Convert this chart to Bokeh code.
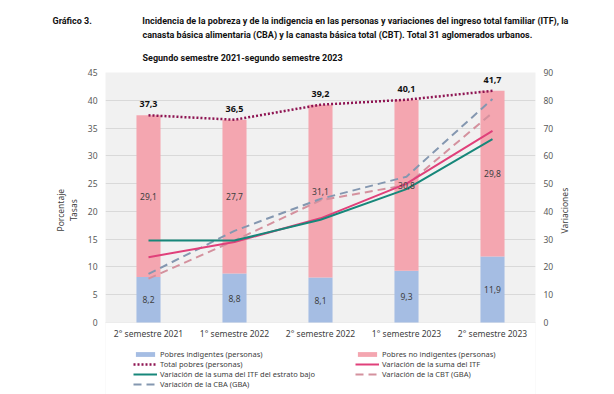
import math
from bokeh.plotting import figure
from bokeh.models import (Range1d, LinearAxis, Title, Legend, LegendItem, ColumnDataSource, FactorRange,
                          BoxAnnotation)
from bokeh.core.properties import value
from bokeh.embed import file_html
from bokeh.resources import INLINE

categories = ["2° semestre 2021", "1° semestre 2022", "2° semestre 2022", "1° semestre 2023", "2° semestre 2023"]
indigentes = [8.2, 8.8, 8.1, 9.3, 11.9]
no_indigentes = [29.1, 27.7, 31.1, 30.8, 29.8]
total_pobres = [37.3, 36.5, 39.2, 40.1, 41.7]
var_itf = [23.5, 29.0, 37.5, 50.0, 69.0]
var_itf_bajo = [29.5, 29.5, 37.0, 48.0, 66.0]
var_cbt = [15.8, 29.5, 44.0, 49.5, 75.5]
var_cba = [17.5, 33.0, 44.5, 52.5, 80.5]
left_ticks = list(range(0, 46, 5))
right_ticks = list(range(0, 91, 10))

chart_number = "Gráfico 3."
title_lines = ["Incidencia de la pobreza y de la indigencia en las personas y variaciones del ingreso total familiar (ITF), la",
               "canasta básica alimentaria (CBA) y la canasta básica total (CBT). Total 31 aglomerados urbanos.",
               "Segundo semestre 2021-segundo semestre 2023"]
left_label_lines = ["Porcentaje", "Tasas"]
right_label = "Variaciones"

def fmt(v):
    return f"{v:.1f}".replace(".", ",")

TICK_FONT = "Noto Sans"
TITLE_FONT = "Roboto"
TITLE_SIZE = "9px"

W, H = 614, 394
FL, FR, FT = 105, 535, 72
ZERO_Y = 322            # pixel row of the value 0
LMAX, RMAX = 45, 90
px_per_unit = (ZERO_Y - FT) / LMAX
left_bottom = -(H - ZERO_Y) / px_per_unit

p = figure(x_range=FactorRange(*categories, range_padding=0), y_range=Range1d(left_bottom, LMAX),
           width=W, height=H, output_backend="svg", toolbar_location=None,
           min_border_left=FL, min_border_right=W - FR, min_border_top=FT, min_border_bottom=0)
p.outline_line_color = None
p.background_fill_color = "#F1F1F1"
p.border_fill_color = "white"
p.extra_y_ranges = {"var": Range1d(left_bottom * RMAX / LMAX, RMAX)}
p.xaxis.visible = False
p.add_layout(BoxAnnotation(top=0, fill_color="white", fill_alpha=1, line_color=None, level="underlay"))

src = ColumnDataSource(dict(cat=categories, ind=indigentes, noind=no_indigentes, tot=total_pobres,
                            itf=var_itf, itfb=var_itf_bajo, cbt=var_cbt, cba=var_cba,
                            base=[0] * len(categories),
                            ind_mid=[v / 2 for v in indigentes],
                            noind_mid=[a + b / 2 for a, b in zip(indigentes, no_indigentes)],
                            ind_lbl=[fmt(v) for v in indigentes],
                            noind_lbl=[fmt(v) for v in no_indigentes],
                            tot_lbl=[fmt(v) for v in total_pobres]))

bars = p.vbar_stack(["ind", "noind"], x="cat", width=0.28, source=src,
                    color=["#A5BDE3", "#F4A6B0"], line_color=None)

c_itf = "#E0407A"
c_bajo = "#17877A"
c_cbt = "#D4919E"
c_cba = "#8497B0"
r_cbt = p.line("cat", "cbt", source=src, y_range_name="var", color=c_cbt, line_width=2, line_dash="8 5")
r_cba = p.line("cat", "cba", source=src, y_range_name="var", color=c_cba, line_width=2, line_dash="8 5")
r_itf = p.line("cat", "itf", source=src, y_range_name="var", color=c_itf, line_width=2)
r_bajo = p.line("cat", "itfb", source=src, y_range_name="var", color=c_bajo, line_width=2)
r_tot = p.line("cat", "tot", source=src, color="#8E1452", line_width=2.5, line_dash="2 2")

p.text("cat", "ind_mid", text="ind_lbl", source=src, text_font=value(TICK_FONT), text_font_size="8.5px",
       text_color="#404040", text_align="center", text_baseline="middle")
p.text("cat", "noind_mid", text="noind_lbl", source=src, text_font=value(TICK_FONT), text_font_size="8.5px",
       text_color="#404040", text_align="center", text_baseline="middle")
p.text("cat", "tot", text="tot_lbl", source=src, text_font=value(TICK_FONT), text_font_size="9px",
       text_font_style="bold", text_color="#111111", text_align="center", text_baseline="middle", y_offset=-11)
# category labels under the baseline
p.text("cat", "base", text="cat", source=src, text_font=value(TICK_FONT), text_font_size="8.5px",
       text_color="#404040", text_align="center", text_baseline="middle", y_offset=11)

# y axes (left label padded so it centres on the 0-45 band instead of the full frame)
PAD = "\u2003" * 5 + "\u2002"
p.yaxis.ticker = left_ticks
p.yaxis.bounds = (0, LMAX)
p.yaxis.axis_label = "\n".join(PAD + s for s in left_label_lines)
right = LinearAxis(y_range_name="var", ticker=right_ticks, bounds=(0, RMAX))
right_std = 8
try:
    right.axis_label_orientation = math.pi / 2
    right.axis_label = right_label
except Exception:
    right.axis_label = right_label + PAD
    right_std = 0
p.add_layout(right, "right")
for ax in [p.yaxis[0], right]:
    ax.axis_line_color = None
    ax.major_tick_line_color = None
    ax.minor_tick_line_color = None
    ax.major_tick_out = 0
    ax.major_tick_in = 0
    ax.major_label_text_font = TICK_FONT
    ax.major_label_text_font_size = "8.5px"
    ax.major_label_text_color = "#595959"
    ax.axis_label_text_font = TICK_FONT
    ax.axis_label_text_font_size = "8.5px"
    ax.axis_label_text_font_style = "normal"
    ax.axis_label_text_color = "#404040"
    ax.major_label_standoff = 8
p.yaxis[0].axis_label_standoff = 6
right.axis_label_standoff = right_std

p.xgrid.grid_line_color = None
p.ygrid.ticker = left_ticks
p.ygrid.grid_line_color = "#D9D9D9"
p.ygrid.grid_line_width = 1

# legend (row-major: left column, right column)
def item(label, r):
    return LegendItem(label=label, renderers=[r])
legend = Legend(items=[item("Pobres indigentes (personas)", bars[0]),
                       item("Pobres no indigentes (personas)", bars[1]),
                       item("Total pobres (personas)", r_tot),
                       item("Variación de la suma del ITF", r_itf),
                       item("Variación de la suma del ITF del estrato bajo", r_bajo),
                       item("Variación de la CBT (GBA)", r_cbt),
                       item("Variación de la CBA (GBA)", r_cba)],
                ncols=2, location=(28, 5), orientation="horizontal",
                label_text_font=TICK_FONT, label_text_font_size="7.5px", label_text_color="#404040",
                glyph_width=24, glyph_height=6, label_height=8, label_width=195, spacing=0,
                label_standoff=3, padding=0, margin=0, border_line_color=None, background_fill_alpha=0)
p.add_layout(legend, "center")

# titles (first added is closest to the plot)
SP = "\u2003"
p.title.text = ""
t3 = Title(text=title_lines[2], align="left", offset=142 - FL, text_font=TITLE_FONT, text_font_size=TITLE_SIZE,
           text_font_style="bold", text_color="#111111", standoff=20)
t2 = Title(text=title_lines[1], align="left", offset=142 - FL, text_font=TITLE_FONT, text_font_size=TITLE_SIZE,
           text_font_style="bold", text_color="#111111", standoff=2)
t1 = Title(text=chart_number + SP * 5 + "\u2002" + title_lines[0], align="left", offset=52 - FL,
           text_font=TITLE_FONT, text_font_size=TITLE_SIZE,
           text_font_style="bold", text_color="#111111", standoff=1)
p.add_layout(t3, "above")
p.add_layout(t2, "above")
p.add_layout(t1, "above")

open("out.html", "w").write(file_html(p, INLINE))
